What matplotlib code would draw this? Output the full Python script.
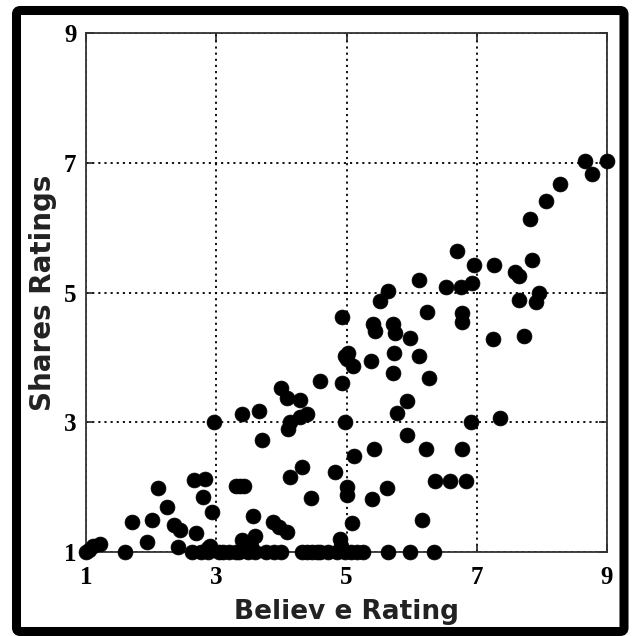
import matplotlib
matplotlib.use("Agg")
import matplotlib.pyplot as plt
from matplotlib.patches import FancyBboxPatch

believe = [8.66, 9.0, 8.77, 8.28, 8.06, 7.82,
           6.69, 6.96, 7.27, 7.85, 7.58, 7.65,
           6.53, 6.76, 6.92, 7.65, 7.95, 7.91,
           6.77, 6.77, 7.25, 7.73,
           6.11, 5.63, 5.52, 4.93, 6.24,
           5.41, 5.43, 5.72, 5.75, 5.97,
           5.03, 5.00, 5.10, 4.98, 5.37, 5.73, 6.11,
           5.72, 6.27, 4.59, 4.93,
           4.00, 4.08, 4.28, 3.66, 3.39,
           4.13, 4.39, 4.28, 4.10, 4.98, 2.97,
           5.93, 5.78, 6.91, 7.36,
           3.71, 5.93,
           5.11, 5.42, 6.22, 6.78,
           6.36, 6.59, 6.84,
           4.31, 4.13, 4.82,
           5.00, 5.00, 4.46, 5.39, 5.62,
           6.16, 5.08, 4.90,
           3.56, 3.87, 4.08, 3.59,
           2.66, 2.83, 2.11, 3.30, 3.43, 3.36,
           2.80, 2.24, 2.93, 1.71, 2.02, 2.35, 2.45, 2.69,
           1.93, 2.42, 3.40, 3.54, 3.42, 2.87, 2.91, 4.92, 3.97,
           1.11, 1.21, 1.04,
           1.0, 1.6, 2.63, 2.76, 2.88, 3.04, 3.2, 3.35, 3.48, 3.6, 3.76, 3.88, 4.0,
           4.31, 4.47, 4.6, 4.72, 4.85, 4.98, 5.07, 5.16, 5.26, 5.63, 5.97, 6.35,
           3.1, 3.3, 4.4, 4.55]
shares = [7.02, 7.02, 6.82, 6.67, 6.41, 6.14,
          5.64, 5.43, 5.43, 5.50, 5.31, 5.25,
          5.08, 5.08, 5.14, 4.88, 4.99, 4.85,
          4.69, 4.54, 4.29, 4.33,
          5.19, 5.02, 4.87, 4.62, 4.70,
          4.52, 4.40, 4.52, 4.37, 4.30,
          4.07, 3.97, 3.87, 4.02, 3.94, 4.06, 4.02,
          3.76, 3.68, 3.63, 3.61,
          3.53, 3.38, 3.35, 3.17, 3.12,
          3.01, 3.12, 3.08, 2.90, 3.0, 3.0,
          3.32, 3.14, 3.01, 3.07,
          2.73, 2.81,
          2.48, 2.58, 2.58, 2.58,
          2.10, 2.10, 2.09,
          2.31, 2.15, 2.24,
          2.0, 1.88, 1.83, 1.82, 1.98,
          1.49, 1.44, 1.20,
          1.55, 1.47, 1.31, 1.24,
          2.11, 2.12, 1.98, 2.01, 2.01, 2.01,
          1.85, 1.70, 1.62, 1.47, 1.49, 1.42, 1.34, 1.30,
          1.16, 1.08, 1.19, 1.09, 1.08, 1.06, 1.09, 1.09, 1.38,
          1.09, 1.12, 1.03,
          1.0, 1.0, 1.0, 1.0, 1.0, 1.0, 1.0, 1.0, 1.0, 1.0, 1.0, 1.0, 1.0,
          1.0, 1.0, 1.0, 1.0, 1.0, 1.0, 1.0, 1.0, 1.0, 1.0, 1.0, 1.0,
          1.0, 1.0, 1.0, 1.0]
ticks = [1, 3, 5, 7, 9]
tick_labels = ["1", "3", "5", "7", "9"]
x_label = "Believ e Rating"
y_label = "Shares Ratings"

W, H = 632, 636
fig = plt.figure(figsize=(W / 100, H / 100), dpi=100)
fig.patch.set_facecolor("white")

ax = fig.add_axes([86 / W, 1 - 552 / H, 521 / W, 519 / H])
ax.scatter(believe, shares, s=115, c="black", marker="o", edgecolors="black",
           linewidths=0.5, zorder=3, clip_on=False)
ax.set_xlim(1, 9)
ax.set_ylim(1, 9)
ax.set_xticks(ticks)
ax.set_yticks(ticks)
ax.set_xticklabels(tick_labels, fontfamily="Liberation Serif", fontweight="bold", fontsize=18)
ax.set_yticklabels(tick_labels, fontfamily="Liberation Serif", fontweight="bold", fontsize=18)
ax.tick_params(direction="in", length=6, width=1.2, top=True, right=True,
               colors="#222222", labelcolor="black")
ax.tick_params(axis="x", pad=10)
ax.tick_params(axis="y", pad=7)
ax.grid(True, linestyle=(0, (1.2, 2.2)), color="black", linewidth=1.3)
ax.set_axisbelow(True)
for sp in ax.spines.values():
    sp.set_linewidth(1.3)
    sp.set_color("#333333")

ax.set_xlabel(x_label, fontfamily="DejaVu Sans", fontweight="bold", fontsize=19,
              color="#222222", labelpad=7)
ax.set_ylabel(y_label, fontfamily="DejaVu Sans", fontweight="bold", fontsize=20,
              color="#222222", labelpad=5)

frame = FancyBboxPatch((16.5 / W, 1 - 631.5 / H), (624 - 16.5) / W, (631.5 - 10.5) / H,
                       boxstyle="round,pad=0,rounding_size=0.006",
                       transform=fig.transFigure, fill=False, edgecolor="black",
                       linewidth=6.5, zorder=10)
fig.patches.append(frame)

fig.savefig("out.png", dpi=100, facecolor="white")
